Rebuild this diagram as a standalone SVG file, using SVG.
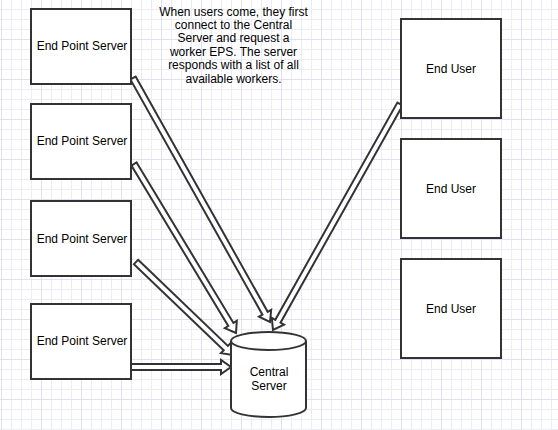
<svg xmlns="http://www.w3.org/2000/svg" width="558" height="430" viewBox="0 0 558 430">
  <defs>
    <pattern id="grid" patternUnits="userSpaceOnUse" x="1" y="-1" width="40" height="40">
      <path d="M10.5,0V40M20.5,0V40M30.5,0V40M0,10.5H40M0,20.5H40M0,30.5H40" stroke="#ececf6" stroke-width="1" fill="none"/>
      <path d="M0.5,0V40M0,0.5H40" stroke="#e0e0f0" stroke-width="1" fill="none"/>
    </pattern>
    <style>
      .box { fill: #ffffff; stroke: #333333; stroke-width: 2; }
      .lbl { font-family: "Liberation Sans", Arial, sans-serif; font-size: 12px; fill: #000000; text-anchor: middle; }
      .arr { fill: #ffffff; stroke: #333333; stroke-width: 2; stroke-linejoin: miter; }
    </style>
  </defs>
  <rect x="0" y="0" width="558" height="430" fill="#ffffff"/>
  <rect x="0" y="0" width="558" height="430" fill="url(#grid)"/>

  <g id="connectors">
    <g transform="translate(133,78) rotate(60.69)">
      <path class="arr" d="M0,-3 L269.8,-3 L269.8,-7 L279.8,0 L269.8,7 L269.8,3 L0,3 Z"/>
    </g>
    <g transform="translate(400,104) rotate(119.34)">
      <path class="arr" d="M0,-3 L249.2,-3 L249.2,-7 L259.2,0 L249.2,7 L249.2,3 L0,3 Z"/>
    </g>
    <g transform="translate(134,164) rotate(58.89)">
      <path class="arr" d="M0,-3 L187.4,-3 L187.4,-7 L197.4,0 L187.4,7 L187.4,3 L0,3 Z"/>
    </g>
    <g transform="translate(136,262) rotate(43.80)">
      <path class="arr" d="M0,-3 L124.4,-3 L124.4,-7 L134.4,0 L124.4,7 L124.4,3 L0,3 Z"/>
    </g>
    <g transform="translate(131,367)">
      <path class="arr" d="M0,-3 L90,-3 L90,-7 L100,0 L90,7 L90,3 L0,3 Z"/>
    </g>
  </g>

  <g id="eps1">
    <rect class="box" x="31" y="9" width="100" height="75"/>
    <text class="lbl" x="82" y="50">End Point Server</text>
  </g>
  <g id="eps2">
    <rect class="box" x="31" y="104" width="100" height="75"/>
    <text class="lbl" x="82" y="145">End Point Server</text>
  </g>
  <g id="eps3">
    <rect class="box" x="31" y="201" width="100" height="75"/>
    <text class="lbl" x="82" y="243">End Point Server</text>
  </g>
  <g id="eps4">
    <rect class="box" x="31" y="304" width="100" height="75"/>
    <text class="lbl" x="82" y="345">End Point Server</text>
  </g>

  <g id="user1">
    <rect class="box" x="401" y="19" width="100" height="99"/>
    <text class="lbl" x="451" y="73">End User</text>
  </g>
  <g id="user2">
    <rect class="box" x="401" y="139" width="100" height="99"/>
    <text class="lbl" x="451" y="193">End User</text>
  </g>
  <g id="user3">
    <rect class="box" x="401" y="259" width="100" height="99"/>
    <text class="lbl" x="451" y="313">End User</text>
  </g>

  <g id="central">
    <path class="box" d="M231,341 A37.5,9 0 0 1 306,341 L306,408 A37.5,9 0 0 1 231,408 Z"/>
    <path d="M231,341 A37.5,9 0 0 0 306,341" fill="none" stroke="#333333" stroke-width="2"/>
    <text class="lbl" x="269" y="376">Central</text>
    <text class="lbl" x="269" y="390">Server</text>
  </g>

  <g id="note">
    <text class="lbl" x="233.5" y="16">When users come, they first</text>
    <text class="lbl" x="233.5" y="29">connect to the Central</text>
    <text class="lbl" x="233.5" y="42">Server and request a</text>
    <text class="lbl" x="233.5" y="56">worker EPS. The server</text>
    <text class="lbl" x="233.5" y="69">responds with a list of all</text>
    <text class="lbl" x="233.5" y="83">available workers.</text>
  </g>
</svg>
